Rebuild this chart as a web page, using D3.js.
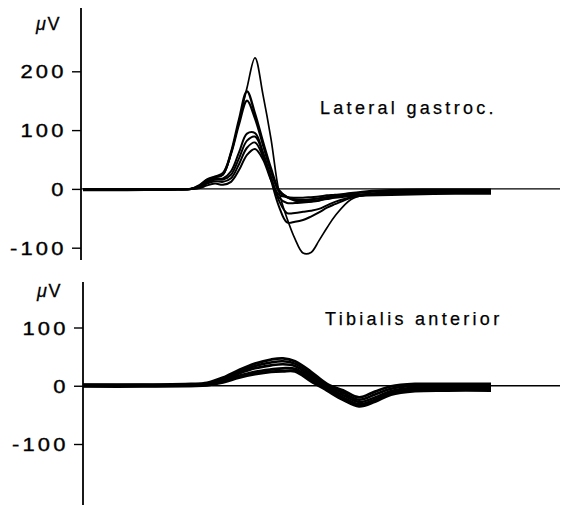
<!DOCTYPE html>
<html>
<head>
<meta charset="utf-8">
<script src="https://cdn.jsdelivr.net/npm/d3@7"></script>
<style>
  html, body { margin: 0; padding: 0; background: #fff; }
  svg { display: block; }
  text { font-family: "Liberation Sans", Arial, Helvetica, sans-serif; fill: #000; }
</style>
</head>
<body>
<svg id="chart" width="571" height="506"></svg>
<script>
// ---------- DATA ----------
// time in ms (shared sample times for each panel)
const timeTop = [0.5, 6, 12, 14, 15, 16, 17, 18, 19, 20, 21, 22, 23, 24, 25, 26, 27, 28, 29, 30, 31, 32, 34, 36, 39, 43, 47, 51.5];
// Lateral gastrocnemius traces (µV)
const gastrocA = [-1, -1, -1, 0, 4, 14, 19, 24, 60, 115, 172, 223, 160, 85, -5, -50, -85, -109, -108, -88, -66, -46, -18, -10, -6, -4, -3, -3];
const gastrocB = [-2, -2, -1, 0, 5, 15, 20, 25, 62, 118, 166, 128, 80, 35, -2, -14, -20, -22, -21, -19, -17, -15, -12, -11, -10, -9, -8, -8];
const gastrocC = [-1, -1, -1, 0, 6, 16, 21, 27, 60, 110, 150, 120, 75, 30, -4, -14, -18, -19, -18, -16, -14, -12, -10, -9, -8, -7, -6, -6];
const gastrocD = [-1, -1, 0, 0, 3, 12, 17, 18, 30, 62, 94, 95, 62, 15, -30, -57, -56, -53, -47, -40, -32, -26, -15, -10, -7, -6, -5, -5];
const gastrocE = [-1, -1, 0, 0, 3, 11, 16, 16, 24, 52, 82, 89, 60, 20, -20, -41, -41, -39, -37, -34, -28, -22, -14, -9, -5, -4, -4, -3];
const gastrocF = [-2, -2, -1, 0, 2, 9, 13, 12, 18, 42, 70, 79, 55, 18, -15, -24, -24, -23, -22, -20, -16, -12, -8, -6, -3, -2, -2, -2];
const gastrocG = [-1, -1, 0, 0, 1, 6, 9, 7, 12, 32, 58, 68, 50, 15, -10, -14, -15, -15, -14, -13, -11, -10, -7, -4, -2, -1, -1, -1];

const timeBottom = [0.5, 8, 14, 16, 18, 20, 22, 24, 25.5, 27, 29, 31, 33, 35, 37, 39, 42, 46, 51.5];
// Tibialis anterior traces (µV)
const tibialis1 = [2, 2, 3, 5, 14, 27, 38, 45, 47, 42, 24, 3, -8, -20, -10, -1, 3, 3, 3];
const tibialis2 = [1, 1, 2, 4, 12, 24, 34, 40, 42, 38, 20, 0, -12, -24, -15, -5, 0, 0, 0];
const tibialis3 = [1, 1, 1, 3, 10, 21, 30, 35, 37, 34, 16, -3, -16, -28, -20, -9, -3, -2, -2];
const tibialis4 = [0, 0, 0, 2, 8, 17, 24, 28, 30, 29, 12, -5, -20, -32, -24, -12, -6, -5, -5];
const tibialis5 = [-1, -1, 0, 1, 6, 14, 20, 24, 25, 25, 8, -8, -24, -35, -27, -15, -9, -8, -8];

const topTicks = [200, 100, 0, -100];
const bottomTicks = [100, 0, -100];
const unitLabel = ["\u03bc", "V"];
const topTitle = "Lateral gastroc.";
const bottomTitle = "Tibialis anterior";

// ---------- DRAW ----------
const svg = d3.select("#chart");
const x = d3.scaleLinear().domain([0, 60]).range([79, 559]);
const yTop = d3.scaleLinear().domain([-100, 200]).range([247.7, 71.3]);
const yBot = d3.scaleLinear().domain([-100, 100]).range([444, 327.5]);

const fmt = d => d < 0 ? "-" + Math.abs(d) : String(d);

function drawPanel(cfg) {
  const g = svg.append("g");
  // y axis
  const ax = g.append("g")
    .attr("transform", `translate(${cfg.axisX},0)`)
    .call(d3.axisLeft(cfg.y).tickValues(cfg.ticks).tickSize(9).tickSizeOuter(0).tickFormat(fmt));
  ax.select(".domain").remove();
  ax.selectAll(".tick line").attr("stroke", "#000").attr("stroke-width", 1.4);
  ax.selectAll(".tick text")
    .attr("x", -11.8)
    .attr("dy", "0.37em")
    .attr("transform", "scale(1.22,1)")
    .style("font-size", "18px")
    .style("letter-spacing", "2.6px")
    .style("font-family", "'Liberation Sans', Arial, sans-serif")
    .attr("fill", "#000")
    .attr("stroke", "#000")
    .attr("stroke-width", 0.35);
  g.append("line")
    .attr("x1", cfg.axisX).attr("x2", cfg.axisX)
    .attr("y1", cfg.axisTop).attr("y2", cfg.axisBottom)
    .attr("stroke", "#000").attr("stroke-width", 1.8);
  // zero line
  g.append("line")
    .attr("x1", cfg.axisX).attr("x2", 560)
    .attr("y1", cfg.y(0)).attr("y2", cfg.y(0))
    .attr("stroke", "#000").attr("stroke-width", 1.3);
  // unit label
  const u = g.append("text")
    .attr("x", cfg.unitX).attr("y", cfg.unitY)
    .style("font-size", "18px")
    .style("letter-spacing", "1.5px")
    .attr("stroke", "#000").attr("stroke-width", 0.3);
  u.append("tspan").style("font-style", "italic").text(unitLabel[0]);
  u.append("tspan").text(unitLabel[1]);
  // title
  g.append("text")
    .attr("x", cfg.titleX).attr("y", cfg.titleY)
    .style("font-size", "18px")
    .style("letter-spacing", "3.3px")
    .attr("stroke", "#000").attr("stroke-width", 0.25)
    .text(cfg.title);
  // traces
  const line = d3.line()
    .x((d, i) => x(cfg.time[i]))
    .y(d => cfg.y(d))
    .curve(d3.curveCatmullRom.alpha(0.5));
  g.selectAll("path.trace")
    .data(cfg.series)
    .join("path")
    .attr("class", "trace")
    .attr("d", d => line(d))
    .attr("fill", "none")
    .attr("stroke", "#000")
    .attr("stroke-width", (d, i) => cfg.widths[i])
    .attr("stroke-linejoin", "round");
}

drawPanel({
  y: yTop, ticks: topTicks, axisX: 81, axisTop: 8, axisBottom: 260,
  unitX: 36, unitY: 30, title: topTitle, titleX: 320, titleY: 114,
  time: timeTop,
  series: [gastrocA, gastrocB, gastrocC, gastrocD, gastrocE, gastrocF, gastrocG],
  widths: [1.7, 2.3, 2.3, 2, 2, 2, 2]
});

drawPanel({
  y: yBot, ticks: bottomTicks, axisX: 83, axisTop: 282, axisBottom: 505,
  unitX: 37, unitY: 297, title: bottomTitle, titleX: 325, titleY: 325,
  time: timeBottom,
  series: [tibialis1, tibialis2, tibialis3, tibialis4, tibialis5],
  widths: [2.8, 2.6, 2.6, 2.8, 3]
});
</script>
</body>
</html>
